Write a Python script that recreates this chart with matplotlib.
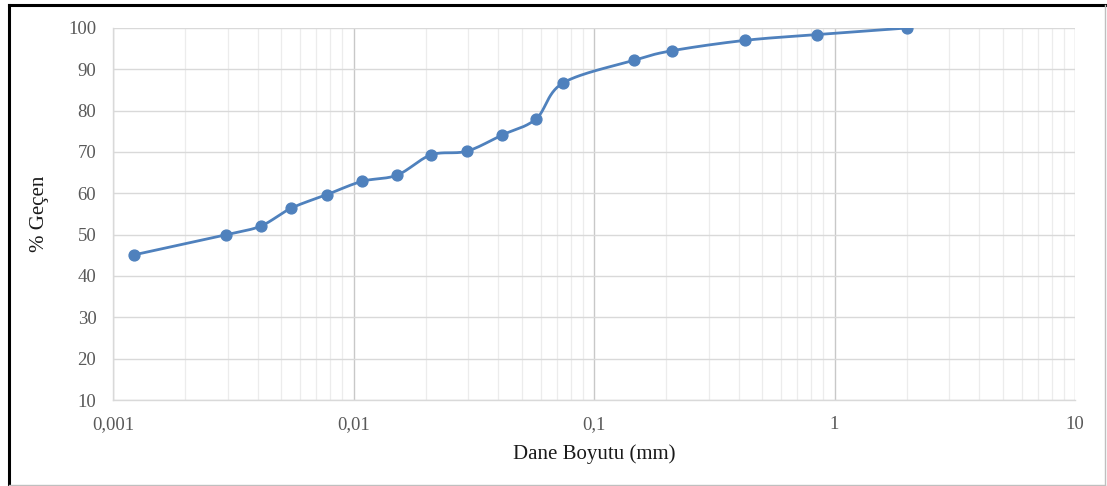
import numpy as np
import matplotlib.pyplot as plt
from matplotlib.ticker import FixedLocator, LogLocator, NullFormatter

plt.rcParams['font.family'] = ['Liberation Serif', 'DejaVu Serif']

# grain size (mm) and percent passing
size_mm = [0.00122, 0.00295, 0.00412, 0.0055, 0.00776, 0.01084, 0.01517, 0.021,
           0.0296, 0.0414, 0.0574, 0.0743, 0.147, 0.211, 0.423, 0.845, 2.0]
passing = [45.1, 50.0, 52.1, 56.4, 59.7, 62.9, 64.4, 69.3,
           70.2, 74.1, 78.0, 86.7, 92.2, 94.5, 97.0, 98.4, 100.0]
xticks = [0.001, 0.01, 0.1, 1, 10]
xticklabels = ['0,001', '0,01', '0,1', '1', '10']
yticks = [10, 20, 30, 40, 50, 60, 70, 80, 90, 100]


def smooth(x, y, n=30):
    # excel-like smoothed line (catmull-rom in log-x space)
    lx = np.log10(x)
    y = np.asarray(y, float)
    P = np.column_stack([lx / 4.0, y / 90.0])
    P = np.vstack([P[0], P, P[-1]])
    out = []
    for i in range(1, len(P) - 2):
        p0, p1, p2, p3 = P[i - 1], P[i], P[i + 1], P[i + 2]
        t = np.linspace(0, 1, n)[:, None]
        c1 = p1 + (p2 - p0) / 6
        c2 = p2 - (p3 - p1) / 6
        seg = ((1 - t) ** 3) * p1 + 3 * ((1 - t) ** 2) * t * c1 + 3 * (1 - t) * t ** 2 * c2 + t ** 3 * p2
        out.append(seg)
    out = np.vstack(out)
    return 10 ** (out[:, 0] * 4.0), out[:, 1] * 90.0


fig = plt.figure(figsize=(11.07, 4.86), dpi=100)
ax = fig.add_axes([113 / 1107, 86 / 486, 962 / 1107, 372 / 486])

sxv, syv = smooth(size_mm, passing)
ax.plot(sxv, syv, color='#4F81BD', lw=2.0, zorder=3, solid_capstyle='round')
ax.plot(size_mm, passing, 'o', color='#4F81BD', ms=7.8, zorder=4)

ax.set_xscale('log')
ax.set_xlim(0.001, 10)
ax.set_ylim(10, 100)
ax.xaxis.set_major_locator(FixedLocator(xticks))
ax.set_xticklabels(xticklabels)
ax.xaxis.set_minor_locator(LogLocator(base=10, subs=np.arange(2, 10)))
ax.xaxis.set_minor_formatter(NullFormatter())
ax.set_yticks(yticks)

ax.grid(which='major', axis='x', color='#c8c8c8', lw=1.0)
ax.grid(which='minor', axis='x', color='#ececec', lw=0.9)
ax.grid(which='major', axis='y', color='#d9d9d9', lw=1.0)
ax.set_axisbelow(True)

for s in ['top', 'right']:
    ax.spines[s].set_visible(False)
for s in ['left', 'bottom']:
    ax.spines[s].set_color('#d9d9d9')
    ax.spines[s].set_linewidth(1.0)

ax.tick_params(which='both', length=0, labelsize=13.5, labelcolor='#595959')
ax.tick_params(axis='x', pad=11.5)
ax.tick_params(axis='y', pad=12)

ax.set_xlabel('Dane Boyutu (mm)', fontsize=15, labelpad=8, color='#1a1a1a')
ax.set_ylabel('% Geçen', fontsize=15, labelpad=14, color='#1a1a1a')

# chart border
fig.add_artist(plt.Line2D([9 / 1107, 9 / 1107], [0, 1 - 5 / 486], color='black', lw=2.2, transform=fig.transFigure))
fig.add_artist(plt.Line2D([9 / 1107, 1105 / 1107], [1 - 5 / 486, 1 - 5 / 486], color='black', lw=2.2, transform=fig.transFigure))
fig.add_artist(plt.Line2D([1105 / 1107, 1105 / 1107], [0.002, 1 - 5 / 486], color='#bfbfbf', lw=1.0, transform=fig.transFigure))
fig.add_artist(plt.Line2D([9 / 1107, 1105 / 1107], [0.002, 0.002], color='#bfbfbf', lw=1.0, transform=fig.transFigure))

plt.savefig('out.png', dpi=100)
